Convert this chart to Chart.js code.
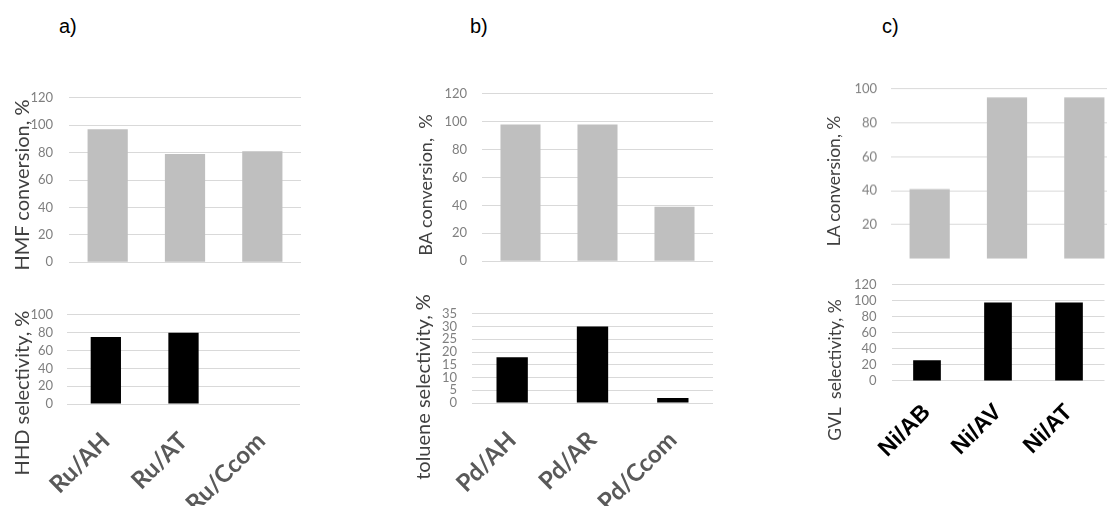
<!DOCTYPE html>
<html>
<head>
<meta charset="utf-8">
<script src="https://cdn.jsdelivr.net/npm/chart.js@4.4.0/dist/chart.umd.min.js"></script>
<style>
  html, body { margin: 0; padding: 0; background: #fff; overflow: hidden; }
  body { width: 1107px; height: 506px; position: relative; }
  .box { position: absolute; }
  .panel { position: absolute; font-family: "Liberation Sans", Arial, sans-serif; font-size: 20px; line-height: 20px; color: #000; }
  .ytitle {
    position: absolute; font-family: "Lato", sans-serif; color: #404040; white-space: pre;
    transform: translate(-50%, -50%) rotate(-90deg); z-index: 5; line-height: 1;
  }
</style>
</head>
<body>
<div class="panel" style="left:59px;top:16px">a)</div>
<div class="panel" style="left:470px;top:16px">b)</div>
<div class="panel" style="left:882px;top:16px">c)</div>

<div class="box" style="left:9px;top:74px;width:297px;height:212px"><canvas id="aTop"></canvas></div>
<div class="box" style="left:7px;top:293px;width:298px;height:213px"><canvas id="aBottom"></canvas></div>
<div class="box" style="left:412px;top:71px;width:306px;height:213px"><canvas id="bTop"></canvas></div>
<div class="box" style="left:412px;top:291px;width:306px;height:215px"><canvas id="bBottom"></canvas></div>
<div class="box" style="left:820px;top:67px;width:308px;height:212.5px"><canvas id="cTop"></canvas></div>
<div class="box" style="left:815px;top:262px;width:292px;height:244px;background:#fff"><canvas id="cBottom"></canvas></div>

<div class="ytitle" style="left:21px;top:184.5px;font-size:20px">HMF conversion, %</div>
<div class="ytitle" style="left:21px;top:392.5px;font-size:20px">HHD selectivity, %</div>
<div class="ytitle" style="left:425px;top:185px;font-size:18px">BA conversion,  %</div>
<div class="ytitle" style="left:422px;top:387px;font-size:20px">toluene selectivity, %</div>
<div class="ytitle" style="left:834px;top:181px;font-size:17.5px">LA conversion, %</div>
<div class="ytitle" style="left:835px;top:370px;font-size:17.5px">GVL  selectivity, %</div>

<script>
// panel a: Ru catalysts
const catA = ["Ru/AH", "Ru/AT", "Ru/Ccom"];
const hmfConversion = [97, 79, 81];
const hhdSelectivity = [75, 80, null];

// panel b: Pd catalysts
const catB = ["Pd/AH", "Pd/AR", "Pd/Ccom"];
const baConversion = [98, 98, 39];
const tolueneSelectivity = [18, 30, 2];

// panel c: Ni catalysts
const catC = ["Ni/AB", "Ni/AV", "Ni/AT"];
const laConversion = [41, 95, 95];
const gvlSelectivity = [26, 98, 98];

// y tick labels
const ticks120 = [0, 20, 40, 60, 80, 100, 120];
const ticks100 = [0, 20, 40, 60, 80, 100];
const ticks35 = [0, 5, 10, 15, 20, 25, 30, 35];
const ticksLA = [20, 40, 60, 80, 100];

const GREY_BAR = "#bfbfbf";
const BLACK_BAR = "#000000";
const xFontLato = { family: "Lato", size: 24, weight: "bold" };
const xFontArial = { family: "Liberation Sans", size: 23, weight: "bold" };

function barChart(id, c) {
    const ctx = document.getElementById(id);
    return new Chart(ctx, {
        type: "bar",
        data: {
            labels: c.labels,
            datasets: [
                {
                    data: c.values,
                    backgroundColor: c.color,
                    barPercentage: c.barPct,
                    categoryPercentage: 1,
                },
            ],
        },
        options: {
            responsive: true,
            maintainAspectRatio: false,
            animation: false,
            layout: { padding: c.pad },
            plugins: {
                legend: { display: false },
                tooltip: { enabled: false },
            },
            scales: {
                x: {
                    display: !!c.xFont,
                    grid: { display: false },
                    border: { display: false },
                    ticks: c.xFont
                        ? {
                              autoSkip: false,
                              maxRotation: 45,
                              minRotation: 45,
                              padding: c.xPad,
                              color: c.xColor,
                              font: c.xFont,
                          }
                        : {},
                    afterFit: (s) => {
                        if (c.xHeight) s.height = c.xHeight;
                    },
                },
                y: {
                    min: 0,
                    max: c.yMax,
                    afterBuildTicks: (s) => {
                        s.ticks = c.yTicks.map((v) => ({ value: v }));
                    },
                    afterFit: (s) => {
                        s.width = c.yWidth;
                    },
                    grid: { color: "#d9d9d9", drawTicks: false },
                    border: { display: false },
                    ticks: {
                        autoSkip: false,
                        padding: c.tickPad,
                        color: "#7f7f7f",
                        font: { family: "Lato", size: 13 },
                    },
                },
            },
        },
    });
}

barChart("aTop", {
    labels: catA, values: hmfConversion, color: GREY_BAR, barPct: 0.52,
    yMax: 120, yTicks: ticks120, yWidth: 60, tickPad: 16,
    pad: { top: 10, bottom: 10, left: 0, right: 5 },
});
barChart("aBottom", {
    labels: catA, values: hhdSelectivity, color: BLACK_BAR, barPct: 0.39,
    yMax: 100, yTicks: ticks100, yWidth: 60, tickPad: 14,
    pad: { top: 10, bottom: 0, left: 0, right: 5 },
    xFont: xFontLato, xColor: "#595959", xPad: 15, xHeight: 102,
});
barChart("bTop", {
    labels: catB, values: baConversion, color: GREY_BAR, barPct: 0.52,
    yMax: 120, yTicks: ticks120, yWidth: 70, tickPad: 15,
    pad: { top: 10, bottom: 10, left: 0, right: 5 },
});
barChart("bBottom", {
    labels: catB, values: tolueneSelectivity, color: BLACK_BAR, barPct: 0.39,
    yMax: 35, yTicks: ticks35, yWidth: 60, tickPad: 15,
    pad: { top: 10, bottom: 0, left: 0, right: 5 },
    xFont: xFontLato, xColor: "#595959", xPad: 15, xHeight: 103,
});
barChart("cTop", {
    labels: catC, values: laConversion, color: GREY_BAR, barPct: 0.52,
    yMax: 100, yTicks: ticksLA, yWidth: 71, tickPad: 14,
    pad: { top: 10, bottom: 10, left: 0, right: 5 },
});
barChart("cBottom", {
    labels: catC, values: gvlSelectivity, color: BLACK_BAR, barPct: 0.39,
    yMax: 120, yTicks: ticks120, yWidth: 76.5, tickPad: 15,
    pad: { top: 15.3, bottom: 0, left: 0, right: 2.5 },
    xFont: xFontArial, xColor: "#000000", xPad: 10, xHeight: 125,
});
</script>
</body>
</html>
